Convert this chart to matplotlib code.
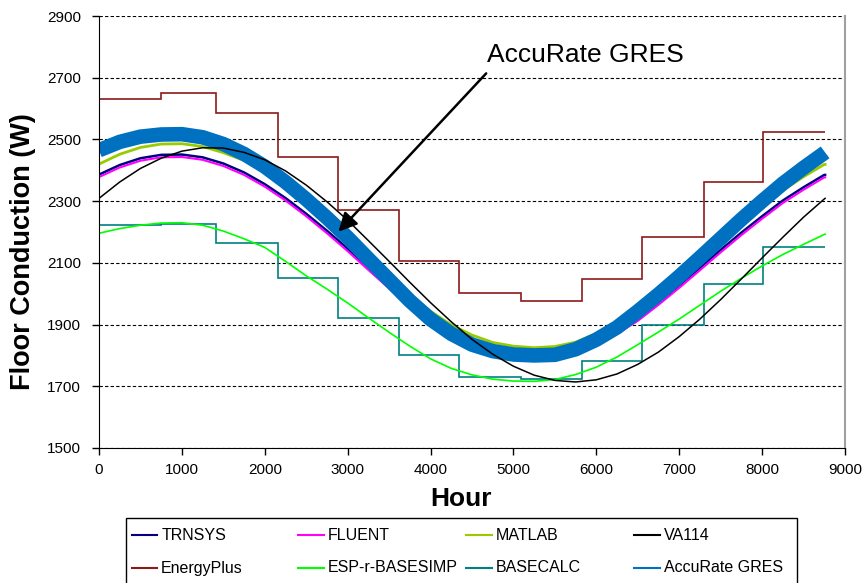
import matplotlib
matplotlib.use("Agg")
import matplotlib.pyplot as plt
from matplotlib.lines import Line2D
from matplotlib.patches import Rectangle

plt.rcParams['font.family'] = ['Liberation Sans', 'DejaVu Sans']

# sample hours (every 250 h) and values
hours = list(range(0, 8751, 250)) + [8760]

trnsys = [2386, 2417, 2439, 2450, 2451, 2442, 2422, 2393, 2355, 2310, 2259, 2204,
          2146, 2085, 2025, 1966, 1914, 1871, 1838, 1815, 1803, 1798, 1802, 1816,
          1843, 1878, 1920, 1972, 2027, 2084, 2142, 2198, 2251, 2302, 2345, 2385, 2385]
fluent = [2378, 2409, 2431, 2442, 2443, 2434, 2414, 2385, 2347, 2302, 2251, 2196,
          2138, 2077, 2017, 1958, 1906, 1863, 1830, 1807, 1795, 1790, 1794, 1808,
          1835, 1870, 1912, 1964, 2019, 2076, 2134, 2190, 2243, 2294, 2337, 2377, 2377]
matlab = [2420, 2452, 2474, 2485, 2486, 2477, 2457, 2432, 2395, 2349, 2298, 2240,
          2179, 2116, 2055, 1995, 1943, 1899, 1866, 1842, 1830, 1825, 1829, 1843,
          1871, 1906, 1948, 2001, 2057, 2114, 2173, 2230, 2284, 2335, 2379, 2419, 2419]
va114 = [2309, 2362, 2406, 2439, 2462, 2473, 2472, 2458, 2434, 2398, 2352, 2298,
         2238, 2172, 2105, 2037, 1971, 1909, 1852, 1804, 1765, 1736, 1719, 1714,
         1721, 1740, 1771, 1811, 1861, 1918, 1981, 2048, 2116, 2183, 2248, 2307, 2309]
esp_r = [2196, 2211, 2222, 2229, 2230, 2222, 2203, 2178, 2150, 2105, 2058, 2015,
         1970, 1922, 1875, 1830, 1789, 1758, 1737, 1723, 1717, 1716, 1722, 1738,
         1762, 1795, 1835, 1876, 1918, 1963, 2008, 2050, 2090, 2127, 2160, 2192, 2193]
accurate = [2465, 2492, 2509, 2516, 2517, 2507, 2485, 2453, 2412, 2362, 2306, 2246,
            2182, 2113, 2045, 1977, 1917, 1870, 1835, 1814, 1803, 1800, 1802, 1820,
            1851, 1891, 1943, 1998, 2056, 2117, 2179, 2241, 2300, 2357, 2408, 2456, 2458]

# monthly step series
month_edges = [0, 744, 1416, 2160, 2880, 3624, 4344, 5088, 5832, 6552, 7296, 8016, 8760]
energyplus = [2630, 2650, 2585, 2443, 2270, 2106, 2003, 1975, 2048, 2185, 2361, 2525]
basecalc = [2222, 2226, 2163, 2050, 1920, 1802, 1730, 1725, 1783, 1900, 2033, 2152]

names = ['TRNSYS', 'FLUENT', 'MATLAB', 'VA114',
         'EnergyPlus', 'ESP-r-BASESIMP', 'BASECALC', 'AccuRate GRES']
colors = ['#000080', '#FF00FF', '#99CC00', '#000000',
          '#8B1A1A', '#00FF00', '#008080', '#0070C0']

W, H = 863, 583
fig = plt.figure(figsize=(W / 100, H / 100), dpi=100)
ax = fig.add_axes([99/W, 1 - 448/H, (845 - 99)/W, (448 - 16)/H])

ax.stairs(energyplus, month_edges, baseline=None, color=colors[4], lw=1.2)
ax.stairs(basecalc, month_edges, baseline=None, color=colors[6], lw=1.2)
ax.plot(hours, esp_r, color=colors[5], lw=1.2)
ax.plot(hours, trnsys, color=colors[0], lw=1.8)
ax.plot(hours, fluent, color=colors[1], lw=1.5)
ax.plot(hours, matlab, color=colors[2], lw=2.0)
ax.plot(hours, accurate, color=colors[7], lw=10.5, solid_capstyle='butt')
ax.plot(hours, va114, color=colors[3], lw=1.1)

ax.set_xlim(0, 9000)
ax.set_ylim(1500, 2900)
ax.set_xticks(range(0, 9001, 1000))
ax.set_yticks(range(1500, 2901, 200))
ax.yaxis.grid(True, linestyle=(0, (3, 2)), color='black', lw=0.8)
ax.set_axisbelow(True)
ax.spines['top'].set_visible(False)
ax.spines['right'].set_color('#A0A0A0')
ax.spines['right'].set_linewidth(1.5)
ax.tick_params(direction='out', length=5, width=1, labelsize=11)
ax.tick_params(axis='y', pad=8)
ax.tick_params(axis='x', pad=6)

ax.set_xlabel('Hour', fontsize=19, fontweight='bold', labelpad=7)
ax.xaxis.label.set_x(0.485)
ax.set_ylabel('Floor Conduction (W)', fontsize=19.5, fontweight='bold', labelpad=8)
ax.yaxis.label.set_y(0.455)

ax.annotate('', xy=(2888, 2201), xytext=(4671, 2714),
            arrowprops=dict(arrowstyle='-|>', color='black', lw=1.8,
                            mutation_scale=28, shrinkA=0, shrinkB=0))
ax.text(4680, 2751, 'AccuRate GRES', fontsize=19, va='baseline', ha='left')

# legend drawn by hand so the four columns get equal widths, like the original
fig.add_artist(Rectangle((125.7/W, -0.05), (797 - 125.7)/W, 0.05 + 1 - 517.7/H,
                         transform=fig.transFigure, fill=False,
                         edgecolor='black', lw=1.0))
col_x = [131.7, 298, 466, 634]
row_y = [535, 568]
for i, (name, c) in enumerate(zip(names, colors)):
    x0 = col_x[i % 4]
    y0 = 1 - row_y[i // 4] / H
    fig.add_artist(Line2D([x0/W, (x0 + 25.6)/W], [y0, y0],
                          transform=fig.transFigure, color=c, lw=1.5))
    fig.text((x0 + 29.5)/W, y0, name, fontsize=11.5, va='center', ha='left')

fig.savefig('out.png', dpi=100)
